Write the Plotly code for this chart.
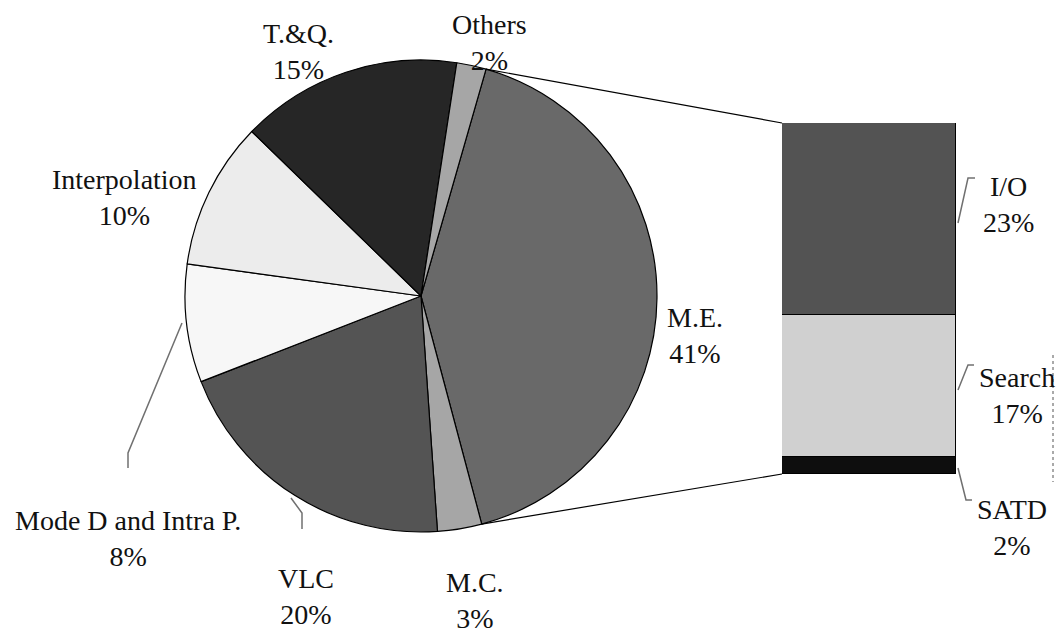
import math
import plotly.graph_objects as go

# Share of encoding time per module (pie), and the M.E. breakdown (bar)
pie_labels = ["M.E.", "M.C.", "VLC", "Mode D and Intra P.", "Interpolation", "T.&Q.", "Others"]
pie_values = [41, 3, 20, 8, 10, 15, 2]
pie_colors = ["#696969", "#a6a6a6", "#545454", "#f7f7f7", "#ececec", "#262626", "#a6a6a6"]

bar_labels = ["I/O", "Search", "SATD"]
bar_values = [23, 17, 2]
bar_colors = ["#535353", "#d0d0d0", "#0e0e0e"]

W, H = 1062, 638
FONT = "Liberation Serif, Times New Roman, serif"


def px(x, y):
    """Pixel position (from top-left) -> paper coordinates."""
    return x / W, 1 - y / H


# pie geometry (pixels)
cx, cy, r = 421, 296, 236
rotation = 16
pie_dom_x = [(cx - r) / W, (cx + r) / W]
pie_dom_y = [1 - (cy + r) / H, 1 - (cy - r) / H]

# bar geometry (pixels)
bar_left, bar_right, bar_top, bar_bottom = 782, 956, 123, 474

fig = go.Figure()

fig.add_trace(go.Pie(
    labels=pie_labels, values=pie_values, sort=False, direction="clockwise",
    rotation=rotation, domain=dict(x=pie_dom_x, y=pie_dom_y),
    marker=dict(colors=pie_colors, line=dict(color="#000000", width=1.2)),
    textinfo="none", hoverinfo="label+percent", showlegend=False,
))

for lab, val, col in reversed(list(zip(bar_labels, bar_values, bar_colors))):
    fig.add_trace(go.Bar(
        x=[0], y=[val], name=lab, width=1, xaxis="x", yaxis="y",
        marker=dict(color=col, line=dict(color="#000000", width=1.2)),
        showlegend=False,
    ))

# connectors from the M.E. slice edges to the bar corners
total = sum(pie_values)
me_start = rotation
me_end = rotation + 360 * pie_values[0] / total


def rim(theta_deg):
    t = math.radians(theta_deg)
    return cx + r * math.sin(t), cy - r * math.cos(t)


shapes = []
for theta, (bx, by) in [(me_start, (bar_left, bar_top)), (me_end, (bar_left, bar_bottom))]:
    x0, y0 = rim(theta)
    p0, p1 = px(x0, y0), px(bx, by)
    shapes.append(dict(type="line", xref="paper", yref="paper",
                       x0=p0[0], y0=p0[1], x1=p1[0], y1=p1[1],
                       line=dict(color="#000000", width=1.2)))

# leader lines for labels that sit away from their segment
leaders = [
    [(182, 323), (128, 453), (128, 468)],
    [(291, 498), (302, 513), (302, 529)],
    [(958, 223), (968, 178), (975, 178)],
    [(958, 390), (968, 365), (974, 365)],
    [(958, 468), (966, 500), (972, 500)],
]
for pts in leaders:
    p = [px(*q) for q in pts]
    path = "M " + " L ".join(f"{a:.5f},{b:.5f}" for a, b in p)
    shapes.append(dict(type="path", xref="paper", yref="paper", path=path,
                       line=dict(color="#707070", width=1.5)))

# dotted frame edge on the right
d0, d1 = px(1053, 355), px(1053, 482)
shapes.append(dict(type="line", xref="paper", yref="paper", x0=d0[0], y0=d0[1],
                   x1=d1[0], y1=d1[1], line=dict(color="#555555", width=1, dash="dot")))

# label placement (pixel centres of the two-line blocks)
label_pos = {
    "T.&Q.": (298, 52), "Others": (489, 42), "Interpolation": (124, 197),
    "Mode D and Intra P.": (128, 538), "VLC": (306, 596), "M.C.": (475, 600),
    "M.E.": (695, 335), "I/O": (1008, 204), "Search": (1017, 395), "SATD": (1012, 527),
}
annotations = []
for lab, val in list(zip(pie_labels, pie_values)) + list(zip(bar_labels, bar_values)):
    ax, ay = px(*label_pos[lab])
    annotations.append(dict(
        x=ax, y=ay, xref="paper", yref="paper", showarrow=False,
        text=f"{lab}<br>{val}%", align="center", xanchor="center", yanchor="middle",
        font=dict(family=FONT, size=28, color="#111111"),
    ))

fig.update_layout(
    width=W, height=H, margin=dict(l=0, r=0, t=0, b=0),
    paper_bgcolor="#ffffff", plot_bgcolor="rgba(0,0,0,0)",
    barmode="stack", bargap=0,
    xaxis=dict(domain=[bar_left / W, bar_right / W], range=[-0.5, 0.5], visible=False, fixedrange=True),
    yaxis=dict(domain=[1 - bar_bottom / H, 1 - bar_top / H], range=[0, sum(bar_values)],
               visible=False, fixedrange=True),
    shapes=shapes, annotations=annotations,
)

fig.write_html("out.html")
